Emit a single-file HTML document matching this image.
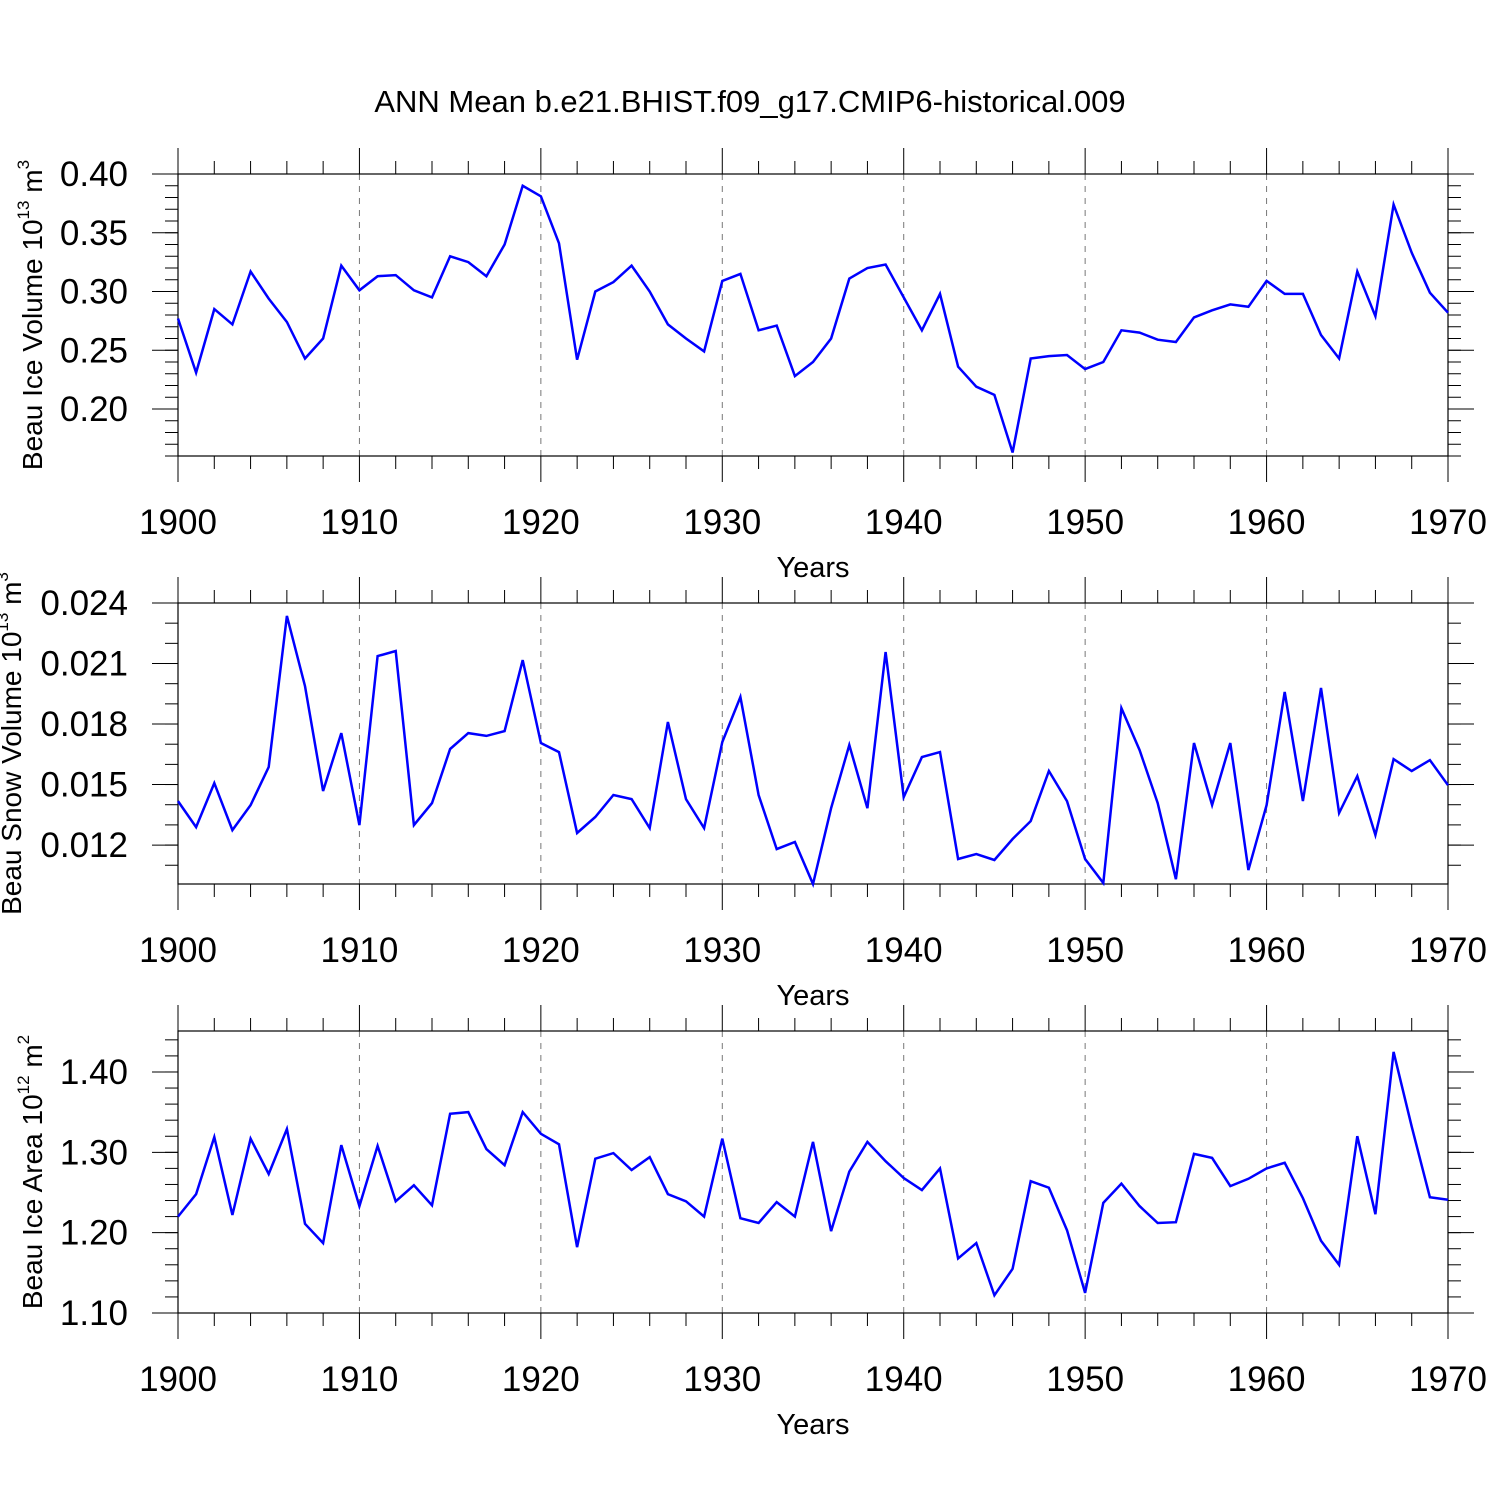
<!DOCTYPE html>
<html><head><meta charset="utf-8"><style>
html,body{margin:0;padding:0;background:#fff;}
svg{display:block;font-family:"Liberation Sans",sans-serif;}
</style></head><body>
<svg id="c" width="1500" height="1500" xmlns="http://www.w3.org/2000/svg">
<text x="750" y="112" font-size="31" text-anchor="middle">ANN Mean b.e21.BHIST.f09_g17.CMIP6-historical.009</text>
</svg>
<script>
const years = [];
for (let y = 1900; y <= 1970; y++) years.push(y);
const iceVolume = [0.277,0.231,0.285,0.272,0.317,0.294,0.274,0.243,0.260,0.322,0.301,0.313,0.314,0.301,0.295,0.330,0.325,0.313,0.340,0.390,0.381,0.341,0.242,0.300,0.308,0.322,0.300,0.272,0.260,0.249,0.309,0.315,0.267,0.271,0.228,0.240,0.260,0.311,0.320,0.323,0.295,0.267,0.298,0.236,0.219,0.212,0.163,0.243,0.245,0.246,0.234,0.240,0.267,0.265,0.259,0.257,0.278,0.284,0.289,0.287,0.309,0.298,0.298,0.263,0.243,0.317,0.279,0.374,0.333,0.299,0.282];
const snowVolume = [0.01418,0.01289,0.01507,0.01274,0.01398,0.01587,0.02336,0.01988,0.01468,0.01755,0.01299,0.02137,0.02162,0.01299,0.01408,0.01676,0.01755,0.01741,0.01765,0.02117,0.01706,0.01661,0.01260,0.01339,0.01448,0.01428,0.01284,0.01810,0.01428,0.01284,0.01711,0.01934,0.01448,0.01180,0.01215,0.01007,0.01383,0.01696,0.01383,0.02157,0.01438,0.01636,0.01661,0.01131,0.01155,0.01126,0.01230,0.01319,0.01567,0.01418,0.01131,0.01012,0.01879,0.01671,0.01408,0.01031,0.01706,0.01398,0.01706,0.01076,0.01398,0.01959,0.01418,0.01979,0.01359,0.01542,0.01250,0.01626,0.01567,0.01621,0.01497];
const iceArea = [1.220,1.248,1.319,1.222,1.317,1.273,1.329,1.211,1.187,1.309,1.233,1.308,1.239,1.259,1.234,1.348,1.350,1.304,1.284,1.350,1.323,1.310,1.182,1.292,1.299,1.278,1.294,1.248,1.239,1.220,1.317,1.218,1.212,1.238,1.220,1.313,1.202,1.276,1.313,1.289,1.268,1.253,1.280,1.168,1.187,1.122,1.155,1.264,1.256,1.203,1.125,1.237,1.261,1.233,1.212,1.213,1.298,1.293,1.258,1.267,1.280,1.287,1.243,1.190,1.160,1.320,1.223,1.425,1.332,1.244,1.241];
const xTicks = [1900,1910,1920,1930,1940,1950,1960,1970];
const volTicks = ["0.20","0.25","0.30","0.35","0.40"];
const snowTicks = ["0.012","0.015","0.018","0.021","0.024"];
const areaTicks = ["1.10","1.20","1.30","1.40"];

const svg = document.getElementById('c');
const NS = 'http://www.w3.org/2000/svg';
function el(tag, attrs, parent) {
  const e = document.createElementNS(NS, tag);
  for (const k in attrs) e.setAttribute(k, attrs[k]);
  (parent || svg).appendChild(e);
  return e;
}
const X0 = 178, X1 = 1448;
function xs(y) { return X0 + (y - 1900) / 70 * (X1 - X0); }

function panel(name, top, bot, vmin, vmax, minorStep, ticks, data, title, sup, usup, titleX) {
  const g = el('g', {});
  
  
  const ys = v => bot - (v - vmin) / (vmax - vmin) * (bot - top);
  xTicks.slice(1, -1).forEach(t => {
    const l = el('line', {x1: xs(t), x2: xs(t), y1: top, y2: bot, stroke: '#777', 'stroke-width': 1, 'stroke-dasharray': '6,6'}, g);
    
    
  });
  for (let yr = 1900; yr <= 1970; yr += 2) {
    const major = yr % 10 === 0;
    const len = major ? 26 : 13;
    el('line', {x1: xs(yr), x2: xs(yr), y1: top - len, y2: top, stroke: '#000', 'stroke-width': 1}, g);
    el('line', {x1: xs(yr), x2: xs(yr), y1: bot, y2: bot + len, stroke: '#000', 'stroke-width': 1}, g);
  }
  xTicks.forEach(t => {
    const tx = el('text', {x: xs(t), y: bot + 78, 'font-size': 35, 'text-anchor': 'middle'}, g);
    tx.textContent = t;
    
    
  });
  const xt = el('text', {x: 813, y: bot + 121, 'font-size': 29, 'text-anchor': 'middle'}, g);
  xt.textContent = 'Years';
  
  
  const start = Math.ceil(vmin / minorStep - 1e-6);
  for (let i = start; i * minorStep <= vmax + 1e-9; i++) {
    const v = i * minorStep, y = ys(v);
    el('line', {x1: X0 - 13, x2: X0, y1: y, y2: y, stroke: '#000', 'stroke-width': 1}, g);
    el('line', {x1: X1, x2: X1 + 13, y1: y, y2: y, stroke: '#000', 'stroke-width': 1}, g);
  }
  ticks.forEach(t => {
    const y = ys(parseFloat(t));
    el('line', {x1: X0 - 26, x2: X0, y1: y, y2: y, stroke: '#000', 'stroke-width': 1}, g);
    el('line', {x1: X1, x2: X1 + 26, y1: y, y2: y, stroke: '#000', 'stroke-width': 1}, g);
    const tx = el('text', {x: 128, y: y + 12, 'font-size': 35, 'text-anchor': 'end'}, g);
    tx.textContent = t;
    
    
  });
  const fr = el('rect', {x: X0, y: top, width: X1 - X0, height: bot - top, fill: 'none', stroke: '#000', 'stroke-width': 1.2}, g);
  
  
  const pts = data.map((v, i) => xs(years[i]).toFixed(1) + ',' + ys(v).toFixed(1)).join(' ');
  const pl = el('polyline', {points: pts, fill: 'none', stroke: '#0000ff', 'stroke-width': 2.5, 'stroke-linejoin': 'miter'}, g);
  
  
  const cy = (top + bot) / 2;
  const yt = el('text', {x: 0, y: 0, 'font-size': 28, 'text-anchor': 'middle', transform: 'translate(' + titleX + ',' + cy + ') rotate(-90)'}, g);
  yt.innerHTML = title + '<tspan font-size="17" dy="-13">' + sup + '</tspan><tspan dy="13"> m</tspan><tspan font-size="17" dy="-13">' + usup + '</tspan>';
  
  
}
panel('ice-volume', 174, 456, 0.16, 0.40, 0.01, volTicks, iceVolume, 'Beau Ice Volume 10', '13', '3', 42);
panel('snow-volume', 603, 884, 0.01007, 0.024, 0.001, snowTicks, snowVolume, 'Beau Snow Volume 10', '13', '3', 21);
panel('ice-area', 1031, 1313, 1.10, 1.451, 0.02, areaTicks, iceArea, 'Beau Ice Area 10', '12', '2', 42);
</script>
</body></html>
